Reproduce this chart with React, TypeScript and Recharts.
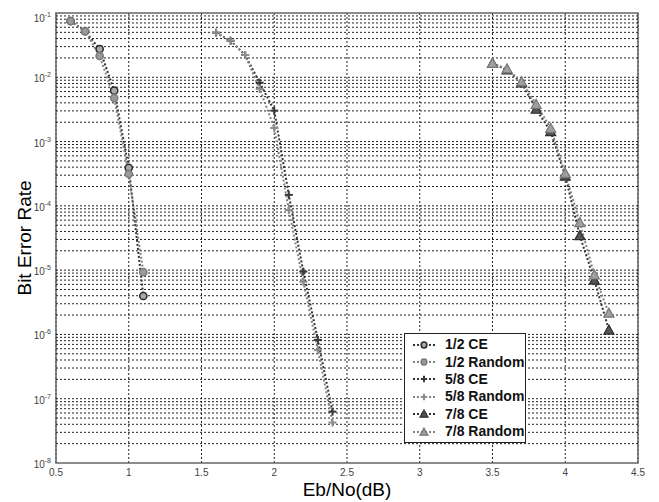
import React from 'react';
import { LineChart, Line, XAxis, YAxis, CartesianGrid, ReferenceLine, ReferenceArea, Legend } from 'recharts';

// ---- data ----
const ebno12 = [0.6, 0.7, 0.8, 0.9, 1.0, 1.1];
const ber12CE = [0.075, 0.052, 0.0275, 0.0062, 3.9e-4, 3.96e-6];
const ber12Rand = [0.075, 0.052, 0.0214, 0.00476, 3.13e-4, 9.3e-6];

const ebno58 = [1.6, 1.7, 1.8, 1.9, 2.0, 2.1, 2.2, 2.3, 2.4];
const ber58CE = [0.0494, 0.037, 0.0222, 0.00824, 0.00303, 1.48e-4, 9.5e-6, 8.2e-7, 6.3e-8];
const ber58Rand = [0.0494, 0.037, 0.0222, 0.00657, 0.00163, 8.6e-5, 6.6e-6, 5.7e-7, 4.26e-8];

const ebno78 = [3.5, 3.6, 3.7, 3.8, 3.9, 4.0, 4.1, 4.2, 4.3];
const ber78CE = [0.0165, 0.013, 0.0082, 0.00318, 0.00143, 2.9e-4, 3.44e-5, 7.0e-6, 1.17e-6];
const ber78Rand = [0.0165, 0.0135, 0.0085, 0.0038, 0.00161, 3.2e-4, 5.5e-5, 8.4e-6, 2.14e-6];

const xTicks = [0.5, 1, 1.5, 2, 2.5, 3, 3.5, 4, 4.5];
const yTicks = [1e-8, 1e-7, 1e-6, 1e-5, 1e-4, 1e-3, 1e-2, 1e-1];
const yTickExps = ['-8', '-7', '-6', '-5', '-4', '-3', '-2', '-1'];
const minorMultipliers = [1, 2, 3, 4, 5, 6, 7, 8, 9];
const decadeExps = [-8, -7, -6, -5, -4, -3, -2];

const gridValues: number[] = [];
decadeExps.forEach((e) => {
  minorMultipliers.forEach((m) => {
    const v = m * Math.pow(10, e);
    if (v > 1e-8 * 1.0001) gridValues.push(v);
  });
});

const toPoints = (xs: number[], ys: number[]) => xs.map((x, i) => ({ x, y: ys[i] }));

const DARK = '#333333';
const GRAY = '#808080';
const FONT = '"Liberation Sans", Arial, Helvetica, sans-serif';

type MarkerKind = 'circle' | 'plus' | 'triangle';

const Marker = ({ kind, dark, cx, cy, scale = 1 }: { kind: MarkerKind; dark: boolean; cx: number; cy: number; scale?: number }) => {
  if (kind === 'circle') {
    return (
      <circle cx={cx} cy={cy} r={3.6 * scale} fill={dark ? '#a8a8a8' : '#9a9a9a'} stroke={dark ? '#2a2a2a' : '#7a7a7a'} strokeWidth={1.5} />
    );
  }
  if (kind === 'plus') {
    const s = 4 * scale;
    const c = dark ? '#3a3a3a' : '#8c8c8c';
    return (
      <g stroke={c} strokeWidth={2}>
        <line x1={cx - s} y1={cy} x2={cx + s} y2={cy} />
        <line x1={cx} y1={cy - s} x2={cx} y2={cy + s} />
      </g>
    );
  }
  const h = 5 * scale;
  const path = `M${cx},${cy - h} L${cx + h},${cy + h * 0.8} L${cx - h},${cy + h * 0.8} Z`;
  return <path d={path} fill={dark ? '#555555' : '#a0a0a0'} stroke={dark ? '#2e2e2e' : '#777777'} strokeWidth={1.2} />;
};

const makeDot = (kind: MarkerKind, dark: boolean) => (props: any) => {
  const { cx, cy, index } = props;
  if (cx == null || cy == null) return <g key={`d-${index}`} />;
  return <Marker key={`d-${index}`} kind={kind} dark={dark} cx={cx} cy={cy} />;
};

const seriesDefs = [
  { name: '1/2 CE', xs: ebno12, ys: ber12CE, kind: 'circle' as MarkerKind, dark: true },
  { name: '1/2 Random', xs: ebno12, ys: ber12Rand, kind: 'circle' as MarkerKind, dark: false },
  { name: '5/8 CE', xs: ebno58, ys: ber58CE, kind: 'plus' as MarkerKind, dark: true },
  { name: '5/8 Random', xs: ebno58, ys: ber58Rand, kind: 'plus' as MarkerKind, dark: false },
  { name: '7/8 CE', xs: ebno78, ys: ber78CE, kind: 'triangle' as MarkerKind, dark: true },
  { name: '7/8 Random', xs: ebno78, ys: ber78Rand, kind: 'triangle' as MarkerKind, dark: false },
];

const XTick = (props: any) => {
  const { x, y, payload } = props;
  return (
    <text x={x} y={y + 12.5} textAnchor="middle" fontSize={10} fill="#444" fontFamily={FONT}>
      {String(payload.value)}
    </text>
  );
};

const YTick = (props: any) => {
  const { x, y, payload } = props;
  const idx = yTicks.findIndex((t) => Math.abs(Math.log10(t) - Math.log10(payload.value)) < 1e-6);
  const exp = idx >= 0 ? yTickExps[idx] : '';
  return (
    <text x={x} y={y + 5} textAnchor="end" fontSize={10} fill="#444" fontFamily={FONT}>
      <tspan>10</tspan>
      <tspan dy={-5} fontSize={7}>{exp}</tspan>
    </text>
  );
};

const LegendContent = () => (
  <div
    style={{
      width: 120,
      height: 104,
      border: '1px solid #222',
      background: '#fff',
      padding: '2px 0',
      fontFamily: FONT,
      fontWeight: 'bold',
      fontSize: 14,
      color: '#111',
    }}
  >
    {seriesDefs.map((s) => (
      <div key={s.name} style={{ height: 17.4, display: 'flex', alignItems: 'center' }}>
        <svg width={22} height={12} style={{ marginLeft: 8, marginRight: 10 }}>
          <line x1={0} y1={6} x2={22} y2={6} stroke={s.dark ? DARK : GRAY} strokeWidth={2} strokeDasharray="2 2" />
          <Marker kind={s.kind} dark={s.dark} cx={11} cy={6} scale={0.8} />
        </svg>
        <span style={{ lineHeight: '17px' }}>{s.name}</span>
      </div>
    ))}
  </div>
);

export default function App() {
  return (
    <LineChart width={651} height={494} margin={{ top: 5, right: 21, left: 0, bottom: 0 }}>
      <CartesianGrid horizontal={false} vertical stroke="#222" strokeDasharray="2 2" strokeWidth={1} />
      {gridValues.map((v) => (
        <ReferenceLine key={`g-${v}`} y={v} stroke="#222" strokeDasharray="2 2" strokeWidth={1} />
      ))}
      <XAxis
        type="number"
        dataKey="x"
        domain={[0.5, 4.5]}
        ticks={xTicks}
        allowDataOverflow
        axisLine={false}
        tickLine={false}
        tickSize={0}
        tickMargin={0}
        height={39}
        tick={<XTick />}
        label={{
          content: (p: any) => {
            const vb = p.viewBox || { x: 48, y: 455, width: 582, height: 39 };
            return (
              <text x={vb.x + vb.width / 2} y={vb.y + 33} textAnchor="middle" fontSize={19} fill="#000" fontFamily={FONT}>
                Eb/No(dB)
              </text>
            );
          },
        }}
      />
      <YAxis
        type="number"
        dataKey="y"
        scale="log"
        domain={[1e-8, 1e-1]}
        ticks={yTicks}
        allowDataOverflow
        axisLine={false}
        tickLine={false}
        tickSize={5}
        tickMargin={0}
        width={48}
        tick={<YTick />}
        label={{
          content: (p: any) => {
            const vb = p.viewBox || { x: 0, y: 5, width: 48, height: 450 };
            const cx = 23;
            const cy = vb.y + vb.height / 2;
            return (
              <text x={cx} y={cy} transform={`rotate(-90, ${cx}, ${cy})`} textAnchor="middle" fontSize={19} fill="#000" fontFamily={FONT}>
                Bit Error Rate
              </text>
            );
          },
        }}
      />
      <ReferenceArea x1={0.5} x2={4.5} y1={1e-8} y2={1e-1} fill="none" stroke="#666" strokeWidth={1.5} />
      {seriesDefs.map((s) => (
        <Line
          key={s.name}
          name={s.name}
          data={toPoints(s.xs, s.ys)}
          dataKey="y"
          type="linear"
          stroke={s.dark ? DARK : GRAY}
          strokeWidth={2}
          strokeDasharray="2 2"
          dot={makeDot(s.kind, s.dark)}
          activeDot={false}
          isAnimationActive={false}
        />
      ))}
      <Legend
        layout="vertical"
        align="center"
        verticalAlign="middle"
        content={<LegendContent />}
        wrapperStyle={{ left: 396, top: 325, width: 122, height: 108 }}
      />
    </LineChart>
  );
}
